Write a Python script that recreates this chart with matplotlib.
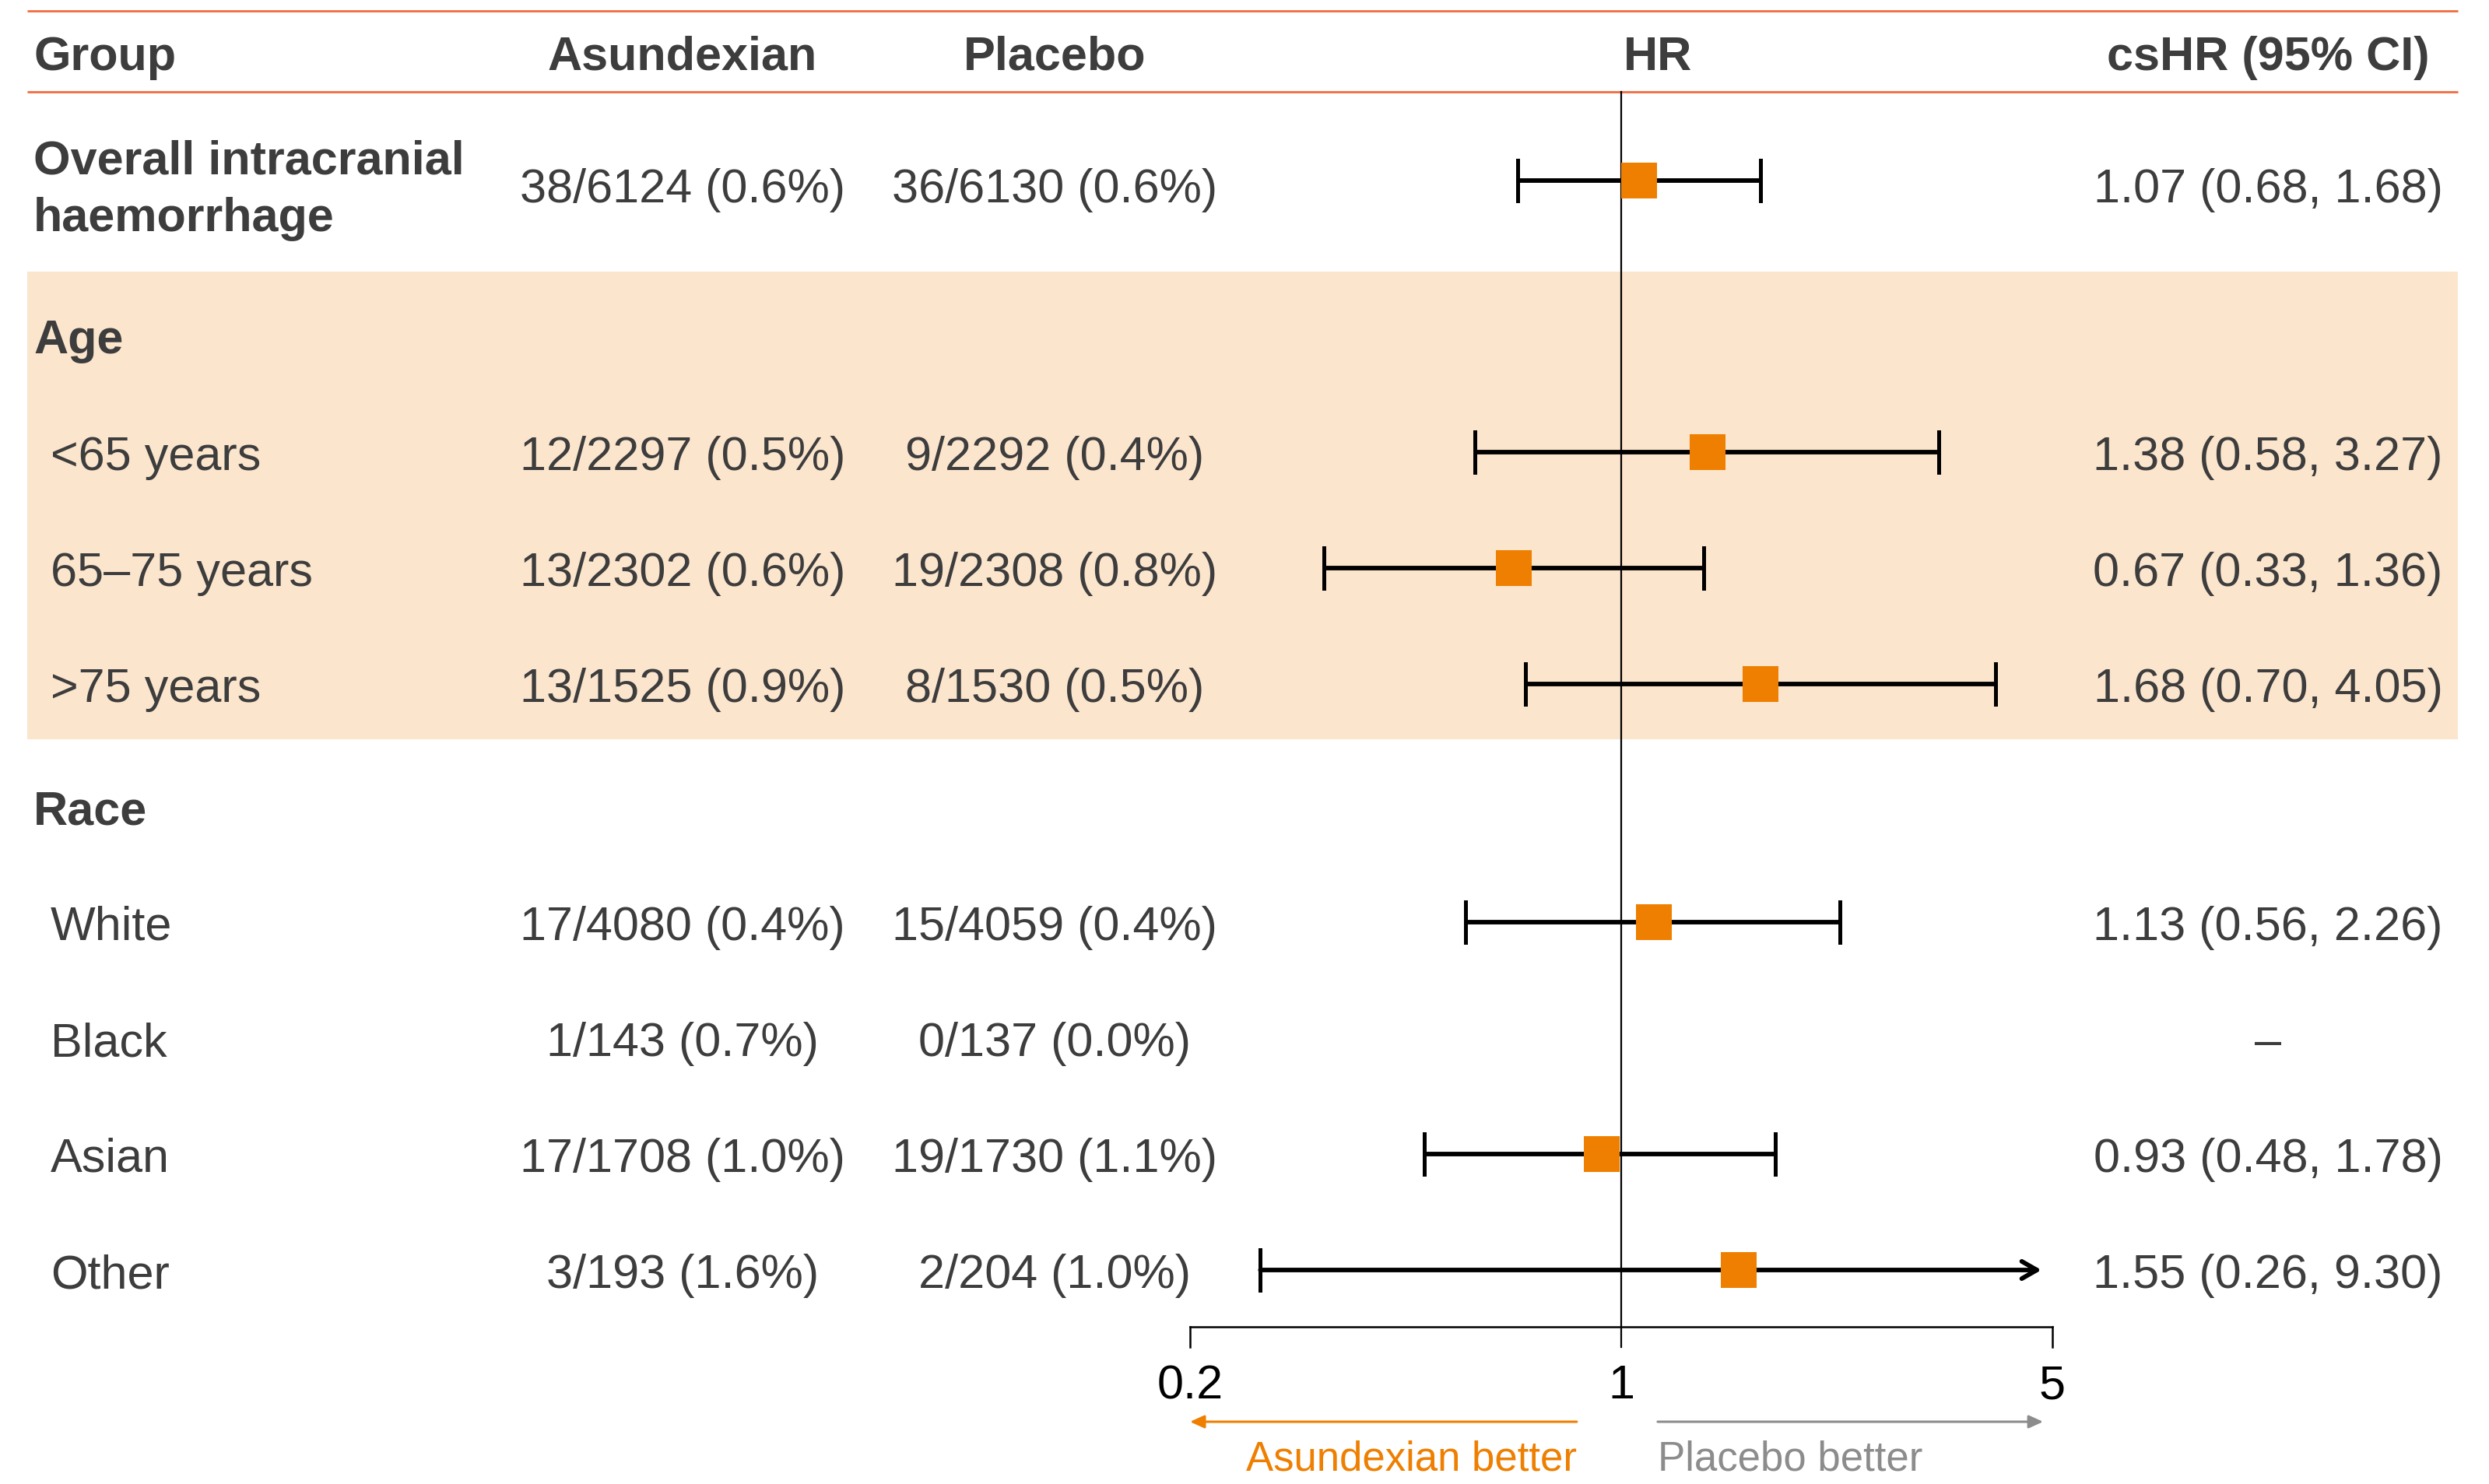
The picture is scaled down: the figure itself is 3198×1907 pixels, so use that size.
import numpy as np
import matplotlib
matplotlib.use("Agg")
import matplotlib.pyplot as plt

plt.rcParams['font.family'] = ['Liberation Sans', 'DejaVu Sans']

# ---------------- data ----------------
headers = ["Group", "Asundexian", "Placebo", "HR", "csHR (95% CI)"]
groups = ["Overall intracranial\nhaemorrhage", "Age", "<65 years", "65\u201375 years", ">75 years",
          "Race", "White", "Black", "Asian", "Other"]
is_heading = [True, True, False, False, False, True, False, False, False, False]
asundexian = ["38/6124 (0.6%)", "", "12/2297 (0.5%)", "13/2302 (0.6%)", "13/1525 (0.9%)",
              "", "17/4080 (0.4%)", "1/143 (0.7%)", "17/1708 (1.0%)", "3/193 (1.6%)"]
placebo = ["36/6130 (0.6%)", "", "9/2292 (0.4%)", "19/2308 (0.8%)", "8/1530 (0.5%)",
           "", "15/4059 (0.4%)", "0/137 (0.0%)", "19/1730 (1.1%)", "2/204 (1.0%)"]
nan = np.nan
hr = [1.07, nan, 1.38, 0.67, 1.68, nan, 1.13, nan, 0.93, 1.55]
ci_lo = [0.68, nan, 0.58, 0.33, 0.70, nan, 0.56, nan, 0.48, 0.26]
ci_hi = [1.68, nan, 3.27, 1.36, 4.05, nan, 2.26, nan, 1.78, 9.30]
xticks = [0.2, 1, 5]
xtick_labels = ["0.2", "1", "5"]
left_label = "Asundexian better"
right_label = "Placebo better"

# ---------------- layout (pixels of a 3198x1907 canvas) ----------------
W, H = 3198, 1907
DPI = 200
row_y = [232, 431, 581, 730, 879, 1036, 1185, 1334, 1483, 1632]
row_base_off = [28, 23, 23, 23, 23, 23, 23, 23, 23, 23]
header_y = 90          # baseline of header text
x_group = 43
x_sub = 65
x_asu = 877
x_pla = 1355
x_hr_head = 2130
x_cshr = 2914
ax_left_px, ax_right_px = 1529, 2637
axis_y, tick_bot = 1705, 1731
ref_top = 118
arrow_y = 1827
arrow_text_y = 1890
clip_max = 4.8

TXT = '#3D3D3D'
ORANGE = '#EE7F00'
LINE_OR = '#F26A3F'
BAND = '#FCE5CD'
GRAY = '#8C8C8C'
FS = 22

fig = plt.figure(figsize=(W / DPI, H / DPI), dpi=DPI)
cv = fig.add_axes([0, 0, 1, 1])
cv.set_xlim(0, W)
cv.set_ylim(H, 0)
cv.axis('off')

# header rules
cv.plot([35, 3158], [14, 14], color=LINE_OR, lw=1.0, solid_capstyle='butt')
cv.plot([35, 3158], [118, 118], color=LINE_OR, lw=1.0, solid_capstyle='butt')

# shaded band for Age block
cv.axhspan(349, 950, xmin=35 / W, xmax=3158 / W, color=BAND, lw=0, zorder=0)

# headers
cv.text(x_group, header_y, headers[0], ha='left', va='baseline', fontsize=FS, fontweight='bold', color=TXT)
cv.text(x_asu, header_y, headers[1], ha='center', va='baseline', fontsize=FS, fontweight='bold', color=TXT)
cv.text(x_pla, header_y, headers[2], ha='center', va='baseline', fontsize=FS, fontweight='bold', color=TXT)
cv.text(x_hr_head, header_y, headers[3], ha='center', va='baseline', fontsize=FS, fontweight='bold', color=TXT)
cv.text(x_cshr, header_y, headers[4], ha='center', va='baseline', fontsize=FS, fontweight='bold', color=TXT)

# rows
for i, g in enumerate(groups):
    y = row_y[i]
    yb = y + row_base_off[i]
    if is_heading[i]:
        lines = g.split('\n')
        if len(lines) == 2:
            cv.text(x_group, y - 9, lines[0], ha='left', va='baseline', fontsize=FS, fontweight='bold', color=TXT)
            cv.text(x_group, y + 65, lines[1], ha='left', va='baseline', fontsize=FS, fontweight='bold', color=TXT)
        else:
            cv.text(x_group, yb, g, ha='left', va='baseline', fontsize=FS, fontweight='bold', color=TXT)
    else:
        cv.text(x_sub, yb, g, ha='left', va='baseline', fontsize=FS, color=TXT)
    if asundexian[i]:
        cv.text(x_asu, yb, asundexian[i], ha='center', va='baseline', fontsize=FS, color=TXT)
    if placebo[i]:
        cv.text(x_pla, yb, placebo[i], ha='center', va='baseline', fontsize=FS, color=TXT)
    if asundexian[i]:
        if np.isnan(hr[i]):
            s = "\u2013"
        else:
            s = f"{hr[i]:.2f} ({ci_lo[i]:.2f}, {ci_hi[i]:.2f})"
        cv.text(x_cshr, yb, s, ha='center', va='baseline', fontsize=FS, color=TXT)

# ---------------- forest axes ----------------
fa = fig.add_axes([ax_left_px / W, 0, (ax_right_px - ax_left_px) / W, 1])
fa.set_xscale('log')
fa.set_xlim(xticks[0], xticks[-1])
fa.set_ylim(H, 0)
fa.axis('off')
fa.patch.set_alpha(0)

# reference line at 1
fa.plot([1, 1], [ref_top, tick_bot], color='black', lw=0.8, zorder=2)
# x axis
fa.plot([xticks[0], xticks[-1]], [axis_y, axis_y], color='black', lw=0.9, clip_on=False)
for t, lab in zip(xticks, xtick_labels):
    if t != 1:
        fa.plot([t, t], [axis_y, tick_bot], color='black', lw=0.9, clip_on=False)
    fa.text(t, 1797, lab, ha='center', va='baseline', fontsize=FS, color='black')

cap_h = 26
LW_BAR = 2.1
LW_CAP = 1.8
for i in range(len(groups)):
    if np.isnan(hr[i]):
        continue
    y = row_y[i]
    lo, hi = ci_lo[i], ci_hi[i]
    if hi > xticks[-1]:
        fa.plot([lo, lo], [y - cap_h, y + cap_h], color='black', lw=LW_CAP, zorder=3)
        fa.annotate('', xy=(clip_max, y), xytext=(lo, y),
                    arrowprops=dict(arrowstyle='->,head_length=0.7,head_width=0.4', lw=LW_BAR,
                                    color='black', shrinkA=0, shrinkB=0, mutation_scale=10),
                    zorder=3, annotation_clip=False)
    else:
        fa.plot([lo, hi], [y, y], color='black', lw=LW_BAR, zorder=3, solid_capstyle='butt')
        fa.plot([lo, lo], [y - cap_h, y + cap_h], color='black', lw=LW_CAP, zorder=3)
        fa.plot([hi, hi], [y - cap_h, y + cap_h], color='black', lw=LW_CAP, zorder=3)
    fa.plot([hr[i]], [y], marker='s', markersize=16.7, color=ORANGE, markeredgewidth=0, zorder=4)

# direction arrows
fa.annotate('', xy=(xticks[0], arrow_y), xytext=(0.847, arrow_y),
            arrowprops=dict(arrowstyle='-|>,head_length=0.55,head_width=0.25', lw=1.1,
                            color=ORANGE, shrinkA=0, shrinkB=0, mutation_scale=10),
            annotation_clip=False)
fa.annotate('', xy=(4.83, arrow_y), xytext=(1.146, arrow_y),
            arrowprops=dict(arrowstyle='-|>,head_length=0.55,head_width=0.25', lw=1.1,
                            color=GRAY, shrinkA=0, shrinkB=0, mutation_scale=10),
            annotation_clip=False)
fa.text(0.847, arrow_text_y, left_label, ha='right', va='baseline', fontsize=19, color=ORANGE)
fa.text(1.146, arrow_text_y, right_label, ha='left', va='baseline', fontsize=19, color=GRAY)

fig.savefig('out.png', dpi=DPI)
